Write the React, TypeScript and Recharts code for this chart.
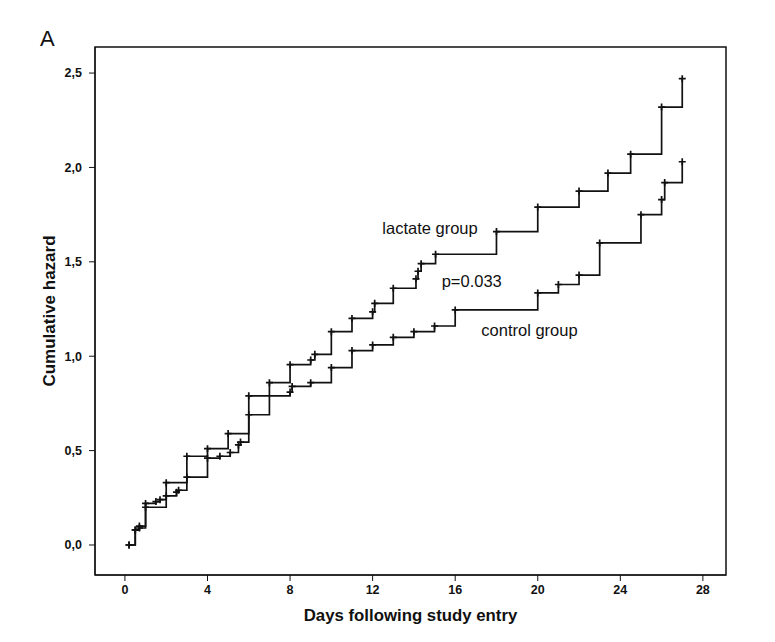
import React from 'react';
import {
  LineChart,
  Line,
  XAxis,
  YAxis,
  ReferenceArea,
  ReferenceDot,
} from 'recharts';

// step points (day, cumulative hazard)
const lactateDays = [0.2, 0.5, 0.7, 1.0, 1.5, 1.7, 2.0, 2.5, 2.6, 3.0, 4.0, 5.0, 6.0, 7.0, 8.0, 9.0, 9.2, 10.0, 11.0, 12.0, 12.1, 13.0, 14.1, 14.2, 14.35, 15.05, 18.0, 20.0, 22.0, 23.4, 24.5, 26.0, 27.0];
const lactateHazard = [0.0, 0.08, 0.1, 0.22, 0.23, 0.24, 0.26, 0.28, 0.29, 0.47, 0.51, 0.59, 0.69, 0.86, 0.955, 0.98, 1.01, 1.13, 1.2, 1.235, 1.28, 1.36, 1.41, 1.45, 1.49, 1.54, 1.66, 1.79, 1.875, 1.97, 2.07, 2.32, 2.47];

const controlDays = [0.2, 0.5, 0.7, 1.0, 2.0, 3.0, 4.0, 4.6, 5.1, 5.5, 5.6, 6.0, 8.0, 8.1, 9.0, 10.0, 11.0, 12.0, 13.0, 14.0, 15.0, 16.0, 20.0, 21.0, 22.0, 23.0, 25.0, 26.0, 26.15, 27.0];
const controlHazard = [0.0, 0.08, 0.09, 0.2, 0.33, 0.36, 0.46, 0.47, 0.49, 0.53, 0.545, 0.79, 0.81, 0.84, 0.86, 0.94, 1.03, 1.06, 1.1, 1.13, 1.16, 1.245, 1.335, 1.38, 1.43, 1.6, 1.75, 1.83, 1.92, 2.03];

const xTicks = [0, 4, 8, 12, 16, 20, 24, 28];
const yTicks = [0, 0.5, 1.0, 1.5, 2.0, 2.5];

const lactateData = lactateDays.map((d, i) => ({ day: d, h: lactateHazard[i] }));
const controlData = controlDays.map((d, i) => ({ day: d, h: controlHazard[i] }));

const FONT = '"Liberation Sans", Arial, sans-serif';
const X_DOMAIN: [number, number] = [-1.45, 29.12];
const Y_DOMAIN: [number, number] = [-0.159, 2.638];

// censor mark "+"
const plus = (props: any) => {
  const { cx, cy, index } = props;
  if (cx == null || cy == null) return <g key={index} />;
  return (
    <path
      key={index}
      d={`M${cx - 3.5},${cy}H${cx + 3.5}M${cx},${cy - 3.5}V${cy + 3.5}`}
      stroke="#111"
      strokeWidth={1.7}
      fill="none"
    />
  );
};

export default function App() {
  return (
    <div style={{ position: 'absolute', left: 0, top: 0, width: 775, height: 642, background: '#fff', fontFamily: FONT }}>
      <div style={{ position: 'absolute', left: 40, top: 26, fontSize: 22, color: '#111' }}>A</div>
      <LineChart width={775} height={642} margin={{ top: 47, right: 49, left: 0, bottom: 0 }}>
        <XAxis
          type="number"
          dataKey="day"
          domain={X_DOMAIN}
          ticks={xTicks}
          allowDataOverflow
          height={67}
          stroke="#111"
          tickSize={6}
          tickMargin={4}
          tick={{ fill: '#111', fontSize: 12.5, fontWeight: 700, fontFamily: FONT }}
          label={{ value: 'Days following study entry', position: 'center', dy: 7, fill: '#111', fontSize: 16.8, fontWeight: 700, fontFamily: FONT }}
        />
        <YAxis
          type="number"
          dataKey="h"
          domain={Y_DOMAIN}
          ticks={yTicks}
          allowDataOverflow
          width={95}
          stroke="#111"
          tickSize={6}
          tickMargin={7}
          tickFormatter={(v: number) => v.toFixed(1).replace('.', ',')}
          tick={{ fill: '#111', fontSize: 12.5, fontWeight: 700, fontFamily: FONT }}
          label={{ value: 'Cumulative hazard', angle: -90, position: 'center', dx: 1, fill: '#111', fontSize: 17, fontWeight: 700, fontFamily: FONT }}
        />
        <ReferenceArea x1={X_DOMAIN[0]} x2={X_DOMAIN[1]} y1={Y_DOMAIN[0]} y2={Y_DOMAIN[1]} fill="none" stroke="#111" strokeWidth={1.5} />
        <Line data={lactateData} dataKey="h" type="stepAfter" stroke="#111" strokeWidth={1.7} dot={plus} activeDot={false} isAnimationActive={false} />
        <Line data={controlData} dataKey="h" type="stepAfter" stroke="#111" strokeWidth={1.7} dot={plus} activeDot={false} isAnimationActive={false} />
        <ReferenceDot x={14.78} y={1.68} r={0} label={{ value: 'lactate group', position: 'center', fill: '#111', fontSize: 16.5, fontFamily: FONT }} />
        <ReferenceDot x={16.8} y={1.4} r={0} label={{ value: 'p=0.033', position: 'center', fill: '#111', fontSize: 16.5, fontFamily: FONT }} />
        <ReferenceDot x={19.6} y={1.14} r={0} label={{ value: 'control group', position: 'center', fill: '#111', fontSize: 16.5, fontFamily: FONT }} />
      </LineChart>
    </div>
  );
}
